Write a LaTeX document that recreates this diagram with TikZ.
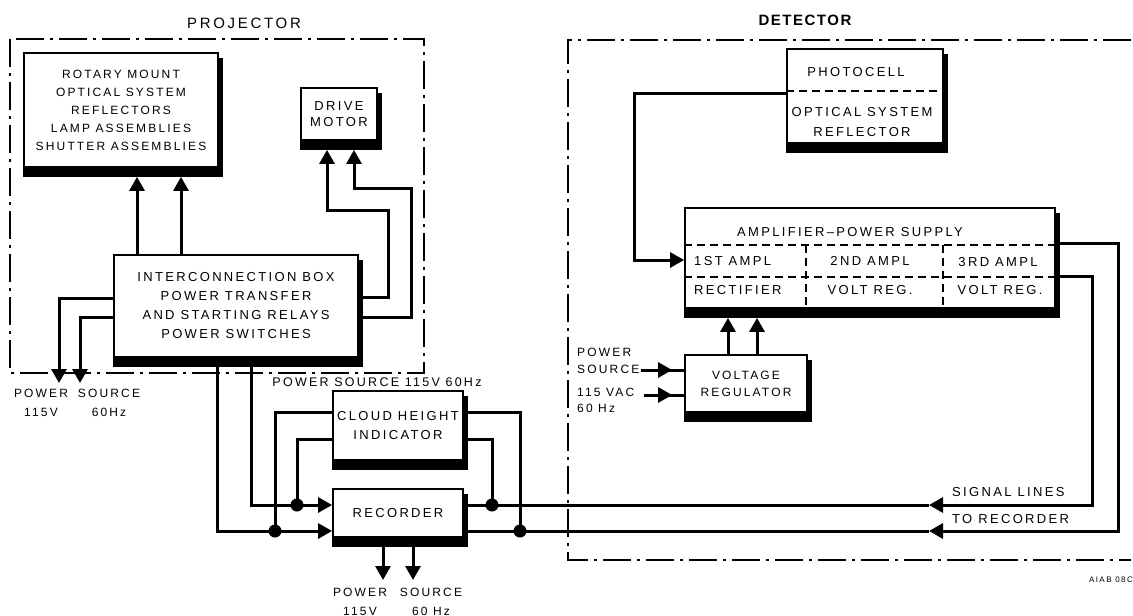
\documentclass[tikz,border=0pt]{standalone}
\usepackage{fontspec}
\newfontfamily\lettering[LetterSpace=18]{Liberation Sans}
\newfontfamily\headfont[LetterSpace=18,BoldFeatures={LetterSpace=10}]{Liberation Sans}
\usetikzlibrary{arrows.meta,backgrounds}
\tikzset{>={Triangle[width=15pt,length=14pt]},line join=miter,
  every node/.style={font=\lettering\fontsize{13}{18.5}\selectfont,inner sep=0pt,align=center},
  block/.style={draw,fill=white,line width=1.8pt},
  wire/.style={line width=3pt},
  feed/.style={wire,->},
  part/.style={line width=1.3pt,dash pattern=on 8pt off 5pt},
  sectionframe/.style={line width=1.4pt,dash pattern=on 28pt off 6pt on 3pt off 6pt},
  junction/.style={circle,fill,minimum size=13pt},
  heading/.style={font=\headfont\fontsize{15}{18}\selectfont},
  srclabel/.style={font=\lettering\fontsize{12}{19}\selectfont}}

\begin{document}
\begin{tikzpicture}[x=1pt,y=-1pt]
\useasboundingbox (0,0) rectangle (1133,616);
% frames and headings
\draw[sectionframe] (10,39) rectangle (424,373);
\draw[sectionframe] (1131,40) -- (568,40) -- (568,560) -- (1131,560);
\node[heading] (projT) at (244,23) {PROJECTOR};
\node[heading,font=\headfont\bfseries\fontsize{15}{18}\selectfont] (detT) at (805,20) {DETECTOR};
% blocks
\node[block,minimum width=194pt,minimum height=114pt,font=\lettering\fontsize{12}{18}\selectfont] (rotary) at (121,110) {ROTARY MOUNT\\OPTICAL SYSTEM\\REFLECTORS\\LAMP ASSEMBLIES\\SHUTTER ASSEMBLIES};
\node[block,minimum width=76pt,minimum height=52pt,font=\lettering\fontsize{13}{16.5}\selectfont] (drive) at (339,114) {DRIVE\\MOTOR};
\node[block,minimum width=244pt,minimum height=102pt,font=\lettering\fontsize{13}{19}\selectfont] (inter) at (236,306) {INTERCONNECTION BOX\\POWER TRANSFER\\AND STARTING RELAYS\\POWER SWITCHES};
\node[block,minimum width=130pt,minimum height=69pt,font=\lettering\fontsize{13}{19}\selectfont] (cloud) at (398,425.5) {CLOUD HEIGHT\\INDICATOR};
\node[block,minimum width=130pt,minimum height=48pt] (rec) at (398,513) {RECORDER};
\node[block,minimum width=156pt,minimum height=94pt] (photo) at (865,96) {};
\node[block,minimum width=370pt,minimum height=100pt] (amp) at (870,258) {};
\node[block,minimum width=122pt,minimum height=57pt,font=\lettering\fontsize{12}{17}\selectfont] (volt) at (746,383.5) {VOLTAGE\\REGULATOR};
\begin{scope}[on background layer]
\foreach \b in {rotary,drive,inter,cloud,rec,photo,amp,volt} {
  \fill ([yshift=-6pt]\b.north west) rectangle ([xshift=4pt,yshift=-9pt]\b.south east);
  \coordinate (\b-sh) at ([yshift=-9pt]\b.south);}
\end{scope}
% block texts
\node (photoT) at (856,72) {PHOTOCELL};
\node[font=\lettering\fontsize{13}{20}\selectfont] (opticT) at (862,122) {OPTICAL SYSTEM\\REFLECTOR};
\draw[part] (photo.west |- 0,91) -- (photo.east |- 0,91);
\node (ampT) at (850,232) {AMPLIFIER–POWER SUPPLY};
\draw[part] (amp.west |- 0,245) -- (amp.east |- 0,245);
\draw[part] (amp.west |- 0,277) -- (amp.east |- 0,277);
\foreach \x in {806,943} {\draw[part] (\x,245) -- (\x,0 |- amp.south);}
\node[anchor=west] (amp1T) at (694,261) {1ST AMPL};
\node[anchor=west] (rectT) at (694,290) {RECTIFIER};
\node (amp2T) at (870,261) {2ND AMPL};
\node (reg2T) at (870,290) {VOLT REG.};
\node (amp3T) at (998,262) {3RD AMPL};
\node (reg3T) at (1000,290) {VOLT REG.};
% projector wiring
\foreach \x in {137,181} {\draw[feed] (\x,0 |- inter.north) -- (\x,0 |- rotary-sh);}
\draw[feed] (inter.east |- 0,297) -- (388,297) |- (327,210) -- (327,0 |- drive-sh);
\draw[feed] (inter.east |- 0,317) -- (411,317) |- (354,188) -- (354,0 |- drive-sh);
\coordinate (pwrA) at (59,383);\coordinate (pwrB) at (80,383);
\draw[feed] (inter.west |- 0,298) -| (pwrA);
\draw[feed] (inter.west |- 0,317) -| (pwrB);
\node[srclabel] (pwrAT) at (41,402.5) {POWER\\115V};
\node[srclabel] (pwrBT) at (109,402.5) {SOURCE\\60Hz};
% recorder wiring
\draw[feed] (217,0 |- inter.south) |- (rec.west |- 0,531);
\draw[feed] (251,0 |- inter.south) |- (rec.west |- 0,505);
\node[font=\lettering\fontsize{12.5}{15}\selectfont] (cloudpwrT) at (377,382) {POWER SOURCE 115V 60Hz};
\coordinate (jA) at (275,531);\coordinate (jB) at (297,505);
\coordinate (jC) at (492,505);\coordinate (jD) at (520,531);
\draw[wire] (cloud.west |- 0,412) -| (jA);
\draw[wire] (cloud.west |- 0,439) -| (jB);
\draw[wire] (cloud.east |- 0,412) -| (jD);
\draw[wire] (cloud.east |- 0,439) -| (jC);
\coordinate (pwrC) at (383,580);\coordinate (pwrD) at (413,580);
\draw[feed] (383,0 |- rec-sh) -- (pwrC);
\draw[feed] (413,0 |- rec-sh) -- (pwrD);
\node[srclabel] (pwrCT) at (360,601.5) {POWER\\115V};
\node[srclabel] (pwrDT) at (431,601.5) {SOURCE\\60 Hz};
% detector wiring
\draw[feed] (photo.west |- 0,93) -| (634,260) -- (amp.west |- 0,260);
\foreach \x in {728,757} {\draw[feed] (\x,0 |- volt.north) -- (\x,0 |- amp-sh);}
\coordinate (vinA) at (641,370);\coordinate (vinB) at (644,395);
\foreach \v in {vinA,vinB} {
  \draw[wire] (\v) -- (volt.west |- \v);
  \draw[feed] (\v) -- ([xshift=-12pt]volt.west |- \v);}
\node[srclabel,anchor=west,align=left,font=\lettering\fontsize{12}{17}\selectfont] (vinAT) at (577,361) {POWER\\SOURCE};
\node[srclabel,anchor=west,align=left,font=\lettering\fontsize{12}{16}\selectfont] (vinBT) at (577,400) {115 VAC\\60 Hz};
\coordinate (sigA) at (929,531);\coordinate (sigB) at (929,505);
\draw[feed] (amp.east |- 0,243) -| (1118,531) -- (sigA);
\draw[feed] (amp.east |- 0,276) -| (1092,505) -- (sigB);
\draw[wire] (sigA) -- (rec.east |- sigA);
\draw[wire] (sigB) -- (rec.east |- sigB);
\foreach \j in {jA,jB,jC,jD} {\node[junction] (\j-dot) at (\j) {};}
\node[anchor=west] (sigAT) at (952,492) {SIGNAL LINES};
\node[anchor=west] (sigBT) at (952,519) {TO RECORDER};
\node[anchor=east,font=\lettering\fontsize{8}{9}\selectfont] (figT) at (1133,580) {AIAB 08C};
\end{tikzpicture}
\end{document}
